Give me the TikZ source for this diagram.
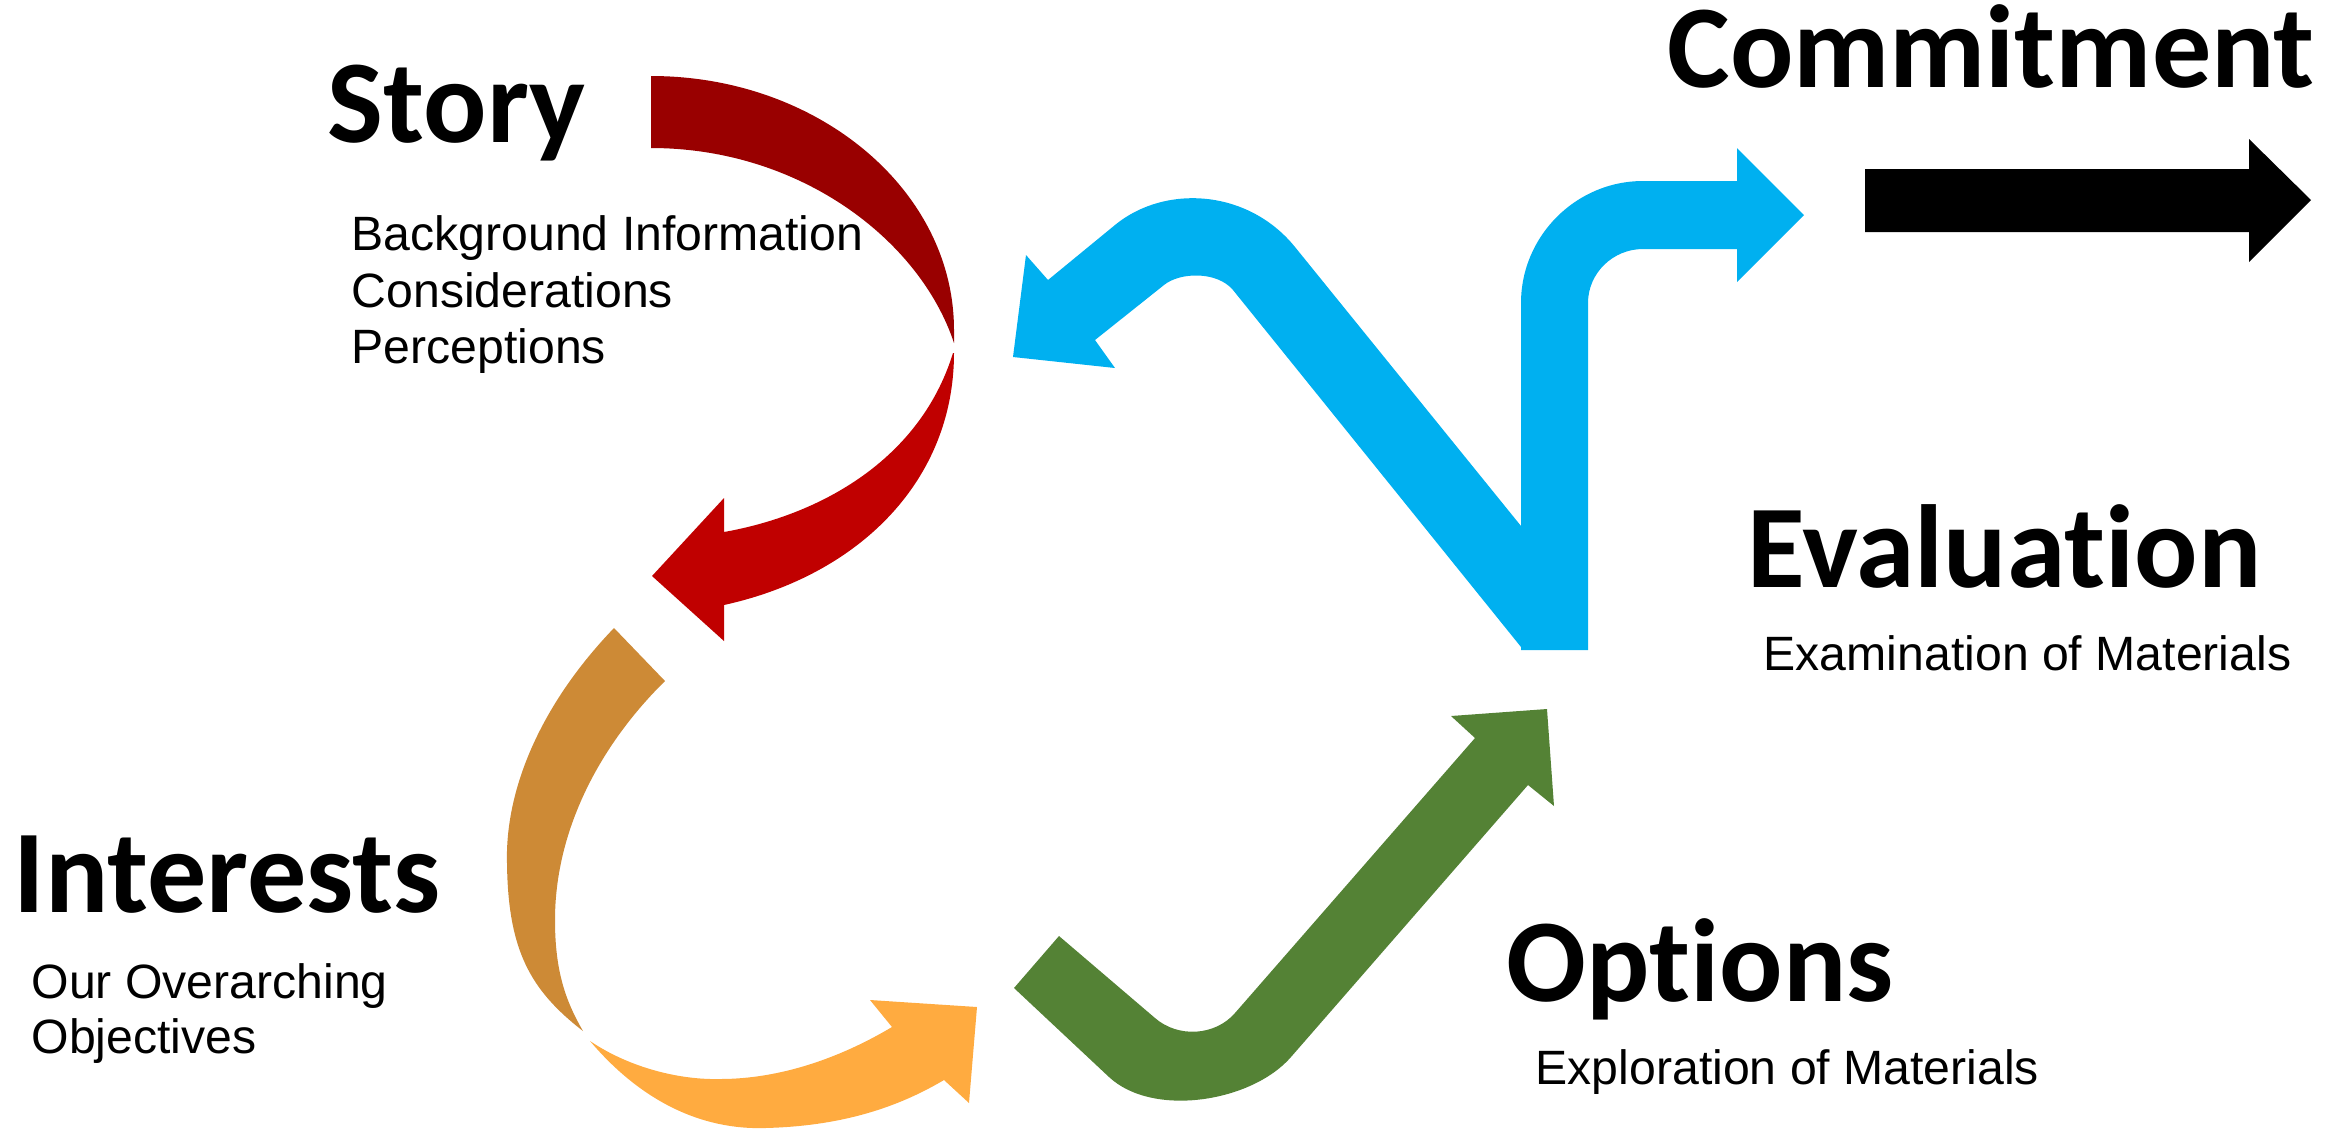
\documentclass[tikz,border=0pt]{standalone}
\usepackage{fontspec}
\setmainfont{Liberation Sans}
\newfontfamily\headfont{Carlito}[Ligatures=CommonOff]
\usepackage{tikz}

\definecolor{storyback}{RGB}{153,0,0}
\definecolor{storyfront}{RGB}{192,0,0}
\definecolor{interestsback}{RGB}{205,138,54}
\definecolor{interestsfront}{RGB}{255,171,64}
\definecolor{optionsgreen}{RGB}{84,130,53}
\definecolor{evaluationblue}{RGB}{0,176,240}

\tikzset{
    heading/.style={font=\headfont\bfseries\fontsize{33.6}{36}\selectfont, anchor=base west, inner sep=0pt},
    detail/.style={font=\fontsize{13.7}{16}\selectfont, anchor=base west, inner sep=0pt},
}

\begin{document}
\begin{tikzpicture}[x=0.01cm, y=-0.01cm]
    \useasboundingbox (0,0) rectangle (2341,1132);

    % story: curved arrow, back half darker
    \fill[storyback] (651,76) .. controls (818,76) and (954,190) .. (954,330) -- (954,343)
        .. controls (920,240) and (800,148) .. (651,148) -- cycle;
    \fill[storyfront] (954,353) .. controls (954,480) and (860,575) .. (724,605)
        -- (724,641) -- (652,576) -- (724,498) -- (724,532)
        .. controls (820,515) and (920,460) .. (953,353) -- cycle;

    % interests
    \fill[interestsback] (614,628) .. controls (540,705) and (505,790) .. (507,863)
        .. controls (508,950) and (530,990) .. (583,1031)
        .. controls (565,1000) and (555,970) .. (555,920)
        .. controls (555,830) and (600,745) .. (665,681) -- cycle;
    \fill[interestsfront] (590,1041) .. controls (640,1100) and (700,1130) .. (765,1128)
        .. controls (850,1126) and (905,1103) .. (944,1080)
        -- (969,1103) -- (977,1007) -- (870,1000) -- (892,1027)
        .. controls (840,1058) and (780,1079) .. (720,1079)
        .. controls (680,1080) and (630,1068) .. (590,1041) -- cycle;

    % options
    \fill[optionsgreen] (1059,936) -- (1014,988) -- (1109,1077)
        .. controls (1153,1118) and (1252,1102) .. (1291,1057)
        -- (1528,785) -- (1554,806) -- (1547,709) -- (1451,716) -- (1475,738)
        -- (1235,1013) .. controls (1215,1036) and (1178,1038) .. (1155,1018) -- cycle;

    % evaluation: one shape, two heads
    \fill[evaluationblue] (1521,650) -- (1588,650) -- (1588,303)
        .. controls (1588,273) and (1613,249) .. (1643,249)
        -- (1737,249) -- (1737,282) -- (1804,215) -- (1737,148) -- (1737,181) -- (1643,181)
        .. controls (1576,181) and (1521,236) .. (1521,303) -- (1521,526)
        -- (1295,247) .. controls (1248,189) and (1165,184) .. (1115,225)
        -- (1048,280) -- (1026,255) -- (1013,357) -- (1115,368) -- (1095,340)
        -- (1164,285) .. controls (1180,272) and (1217,271) .. (1233,290)
        -- (1521,647) -- cycle;

    % commitment
    \fill[black] (1865,169) -- (2249,169) -- (2249,139) -- (2311,200)
        -- (2249,262) -- (2249,232) -- (1865,232) -- cycle;

    % labels
    \node[heading] (story) at (327,142) {Story};
    \node[detail] (story1) at (351,250) {Background Information};
    \node[detail] (story2) at (351,307) {Considerations};
    \node[detail] (story3) at (351,363) {Perceptions};

    \node[heading] (interests) at (13,912) {Interests};
    \node[detail] (interests1) at (31,998) {Our Overarching};
    \node[detail] (interests2) at (31,1053) {Objectives};

    \node[heading] (options) at (1506,1001) {Options};
    \node[detail] (options1) at (1535,1084) {Exploration of Materials};

    \node[heading] (evaluation) at (1747,587) {Evaluation};
    \node[detail] (evaluation1) at (1763,670) {Examination of Materials};

    \node[heading] (commitment) at (1667,87) {Commitment};

\end{tikzpicture}
\end{document}
